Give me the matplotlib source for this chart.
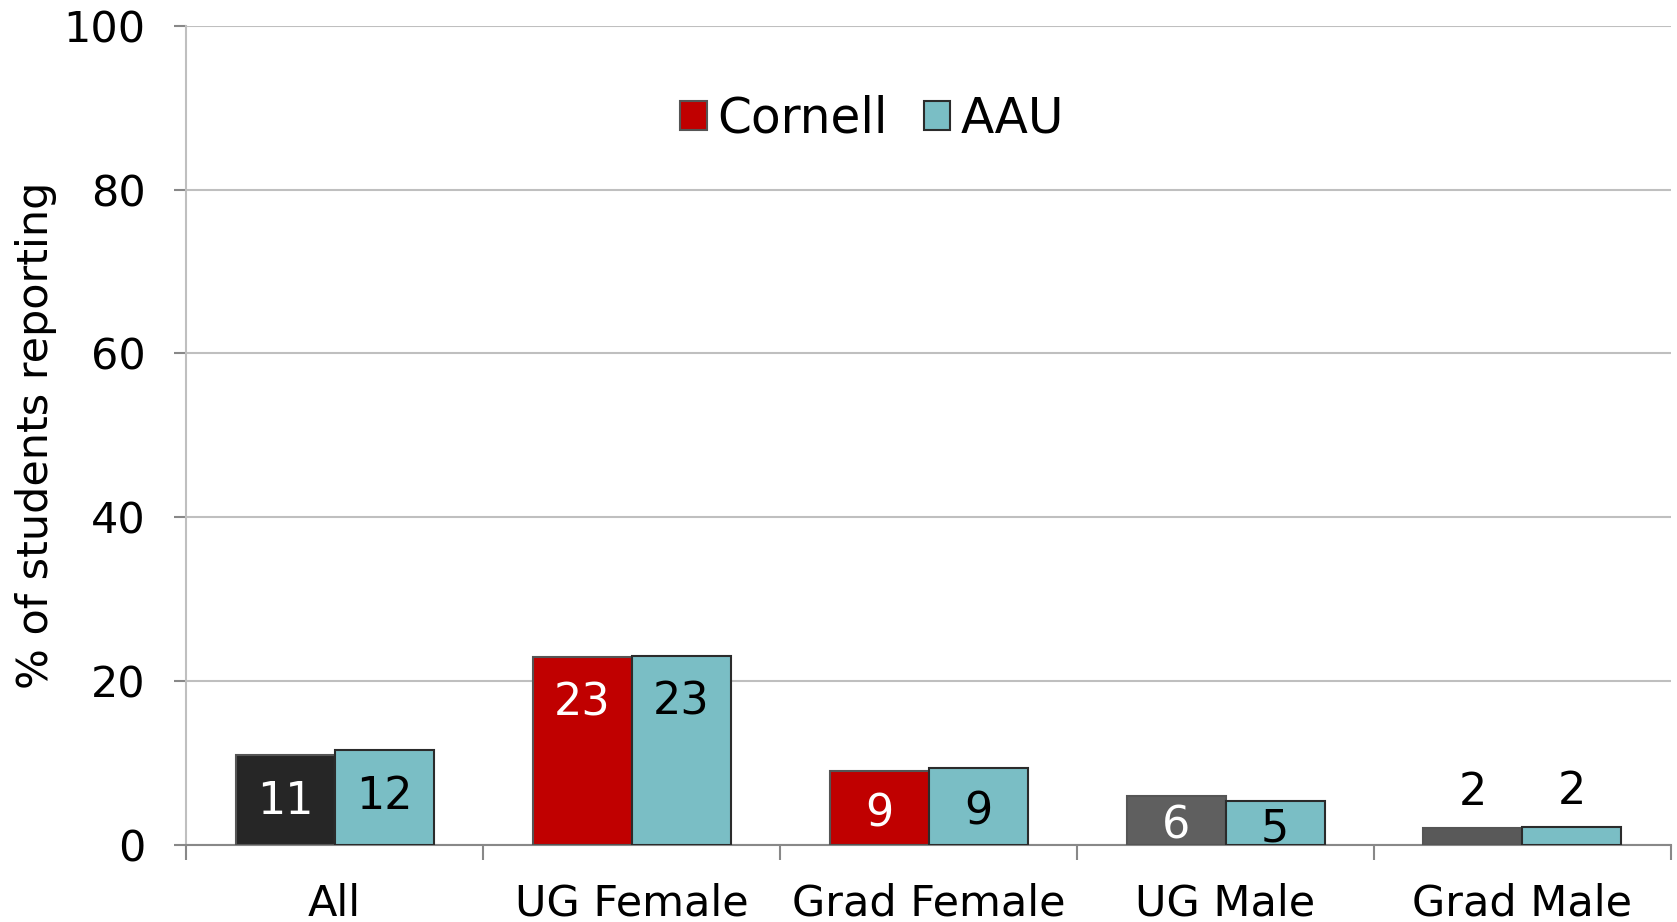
import matplotlib
matplotlib.use("Agg")
import matplotlib.pyplot as plt
from matplotlib.patches import Patch
import numpy as np

categories = ["All", "UG Female", "Grad Female", "UG Male", "Grad Male"]
cornell = [11.0, 23.0, 9.0, 6.0, 2.1]
aau = [11.6, 23.1, 9.4, 5.4, 2.2]
cornell_colors = ["#262626", "#C00000", "#C00000", "#5F5F5F", "#595959"]
aau_color = "#7ABEC5"

plt.rcParams['font.family'] = ['DejaVu Sans']

fig = plt.figure(figsize=(16.77, 9.22), dpi=100)
ax = fig.add_axes([0.111, 0.0835, 0.8854, 0.8885])

x = np.arange(len(categories))
w = 1 / 3
b1 = ax.bar(x - w / 2, cornell, w, color=cornell_colors, edgecolor="#555555", linewidth=1.5, zorder=3)
b2 = ax.bar(x + w / 2, aau, w, color=aau_color, edgecolor="#2B2B2B", linewidth=1.5, zorder=3)

fs = 31
lfs = 32
for i in range(len(categories)):
    for bx, v, col in ((x[i] - w / 2, cornell[i], "white"), (x[i] + w / 2, aau[i], "black")):
        if i == len(categories) - 1:
            ax.text(bx, v + 4.3, f"{round(v):d}", ha="center", va="center", fontsize=lfs, color="black", zorder=4)
        else:
            ax.text(bx, max(v - 5, v / 2) - 0.7, f"{round(v):d}", ha="center", va="center", fontsize=lfs, color=col, zorder=4)

ax.set_xlim(-0.5, len(categories) - 0.5)
ax.set_ylim(0, 100)
ax.set_yticks([0, 20, 40, 60, 80, 100])
ax.yaxis.grid(True, color="#BFBFBF", linewidth=1.5, zorder=0)
ax.set_axisbelow(True)
ax.set_xticks(x)
ax.set_xticklabels(categories)
ax.set_xticks(np.arange(len(categories) + 1) - 0.5, minor=True)
ax.tick_params(axis="x", which="major", length=0, pad=27, labelsize=fs)
ax.tick_params(axis="x", which="minor", length=11, width=1.5, color="#888888")
ax.tick_params(axis="y", which="major", length=9, width=1.5, color="#888888", pad=20, labelsize=fs)

for s in ["top", "right"]:
    ax.spines[s].set_visible(False)
ax.spines["left"].set_color("#BFBFBF")
ax.spines["left"].set_linewidth(1.5)
ax.spines["bottom"].set_color("#888888")
ax.spines["bottom"].set_linewidth(1.5)

ax.set_ylabel("% of students reporting", fontsize=fs, labelpad=5)

handles = [Patch(facecolor="#C00000", edgecolor="#555555", linewidth=1.5, label="Cornell"),
           Patch(facecolor=aau_color, edgecolor="#2B2B2B", linewidth=1.5, label="AAU")]
fig.legend(handles=handles, loc="center", bbox_to_anchor=(0.52, 0.871), ncol=2, frameon=False,
           fontsize=35, handlelength=0.55, handleheight=0.55, handletextpad=0.2, columnspacing=0.75)

fig.savefig("out.png", dpi=100)
